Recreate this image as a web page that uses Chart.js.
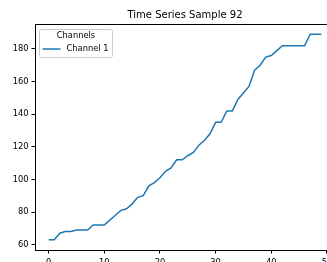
<!DOCTYPE html>
<html>
<head>
<meta charset="utf-8">
<script src="https://cdn.jsdelivr.net/npm/chart.js@4/dist/chart.umd.min.js"></script>
<style>
  html, body { margin: 0; padding: 0; background: #fff; overflow: hidden; width: 327px; height: 262px; }
  #wrap { position: absolute; left: 0; top: 0; width: 340px; height: 262px; }
</style>
</head>
<body>
<div id="wrap"><canvas id="c" width="340" height="262"></canvas></div>
<script>
const chartTitle = "Time Series Sample 92";
const legendTitle = "Channels";
const seriesName = "Channel 1";
const timeSteps = [0,1,2,3,4,5,6,7,8,9,10,11,12,13,14,15,16,17,18,19,20,21,22,23,24,25,26,27,28,29,30,31,32,33,34,35,36,37,38,39,40,41,42,43,44,45,46,47,48,49];
const channel1 = [63,63,67,68,68,69,69,69,72,72,
                  72,75,78,81,82,85,89,90,96,98,
                  101,105,107,112,112,114.5,116.5,121,124,128,
                  135,135,142,142,149,153,157,167,170,175,
                  176,179,182,182,182,182,182,189,189,189];
const xTicks = [0,10,20,30,40,50];
const yTicks = [60,80,100,120,140,160,180];

const FONT = "DejaVu Sans";
const xMin = -2.45, xMax = 51.45;
const yMin = 56.7, yMax = 195.3;

const framePlugin = {
  id: 'frame',
  afterDatasetsDraw(chart) {
    const ctx = chart.ctx, a = chart.chartArea;
    ctx.save();
    ctx.strokeStyle = '#000';
    ctx.lineWidth = 1;
    ctx.beginPath();
    ctx.moveTo(a.left, a.top + 0.5);
    ctx.lineTo(a.right, a.top + 0.5);
    ctx.moveTo(a.right - 0.5, a.top);
    ctx.lineTo(a.right - 0.5, a.bottom);
    ctx.stroke();
    ctx.restore();
  },
  afterDraw(chart) {
    const ctx = chart.ctx, a = chart.chartArea;
    const bx = a.left + 4.5, by = a.top + 5.5, bw = 73, bh = 28;
    ctx.save();
    ctx.fillStyle = 'rgba(255,255,255,0.8)';
    ctx.strokeStyle = '#cccccc';
    ctx.lineWidth = 1;
    ctx.beginPath();
    ctx.roundRect(bx, by, bw, bh, 2);
    ctx.fill();
    ctx.stroke();
    ctx.fillStyle = '#000';
    ctx.font = '8.3px "' + FONT + '"';
    ctx.textBaseline = 'middle';
    ctx.textAlign = 'center';
    ctx.fillText(legendTitle, bx + bw / 2, by + 6.5);
    ctx.strokeStyle = '#1f77b4';
    ctx.lineWidth = 1.5;
    ctx.beginPath();
    ctx.moveTo(bx + 3, by + 19.5);
    ctx.lineTo(bx + 21, by + 19.5);
    ctx.stroke();
    ctx.textAlign = 'left';
    ctx.fillText(seriesName, bx + 27, by + 19.5);
    ctx.restore();
  }
};

new Chart(document.getElementById('c'), {
  type: 'line',
  data: {
    datasets: [{
      label: seriesName,
      data: timeSteps.map((t, i) => ({ x: t, y: channel1[i] })),
      borderColor: '#1f77b4',
      borderWidth: 1.5,
      pointRadius: 0,
      tension: 0,
      fill: false
    }]
  },
  options: {
    responsive: false,
    animation: false,
    events: [],
    layout: { padding: { left: 0, right: 5, top: 0, bottom: 0 } },
    plugins: {
      legend: { display: false },
      tooltip: { enabled: false },
      title: {
        display: true,
        fullSize: false,
        text: chartTitle,
        color: '#000',
        font: { family: FONT, size: 10, weight: 'normal', lineHeight: 1.2 },
        padding: { top: 9, bottom: 3 }
      }
    },
    scales: {
      x: {
        type: 'linear',
        min: xMin, max: xMax,
        afterBuildTicks(scale) { scale.ticks = xTicks.map(v => ({ value: v })); },
        afterFit(scale) { scale.height = 12; },
        grid: { display: true, drawOnChartArea: false, drawTicks: true, tickLength: 3.5, color: '#000', tickColor: '#000' },
        border: { display: true, color: '#000', width: 1 },
        ticks: { color: '#000', font: { family: FONT, size: 8.3 }, padding: 4, maxRotation: 0, autoSkip: false }
      },
      y: {
        type: 'linear',
        min: yMin, max: yMax,
        afterBuildTicks(scale) { scale.ticks = yTicks.map(v => ({ value: v })); },
        afterFit(scale) { scale.width = 35; },
        grid: { display: true, drawOnChartArea: false, drawTicks: true, tickLength: 3.5, color: '#000', tickColor: '#000' },
        border: { display: true, color: '#000', width: 1 },
        ticks: { color: '#000', font: { family: FONT, size: 8.3 }, padding: 3, autoSkip: false }
      }
    }
  },
  plugins: [framePlugin]
});
</script>
</body>
</html>
